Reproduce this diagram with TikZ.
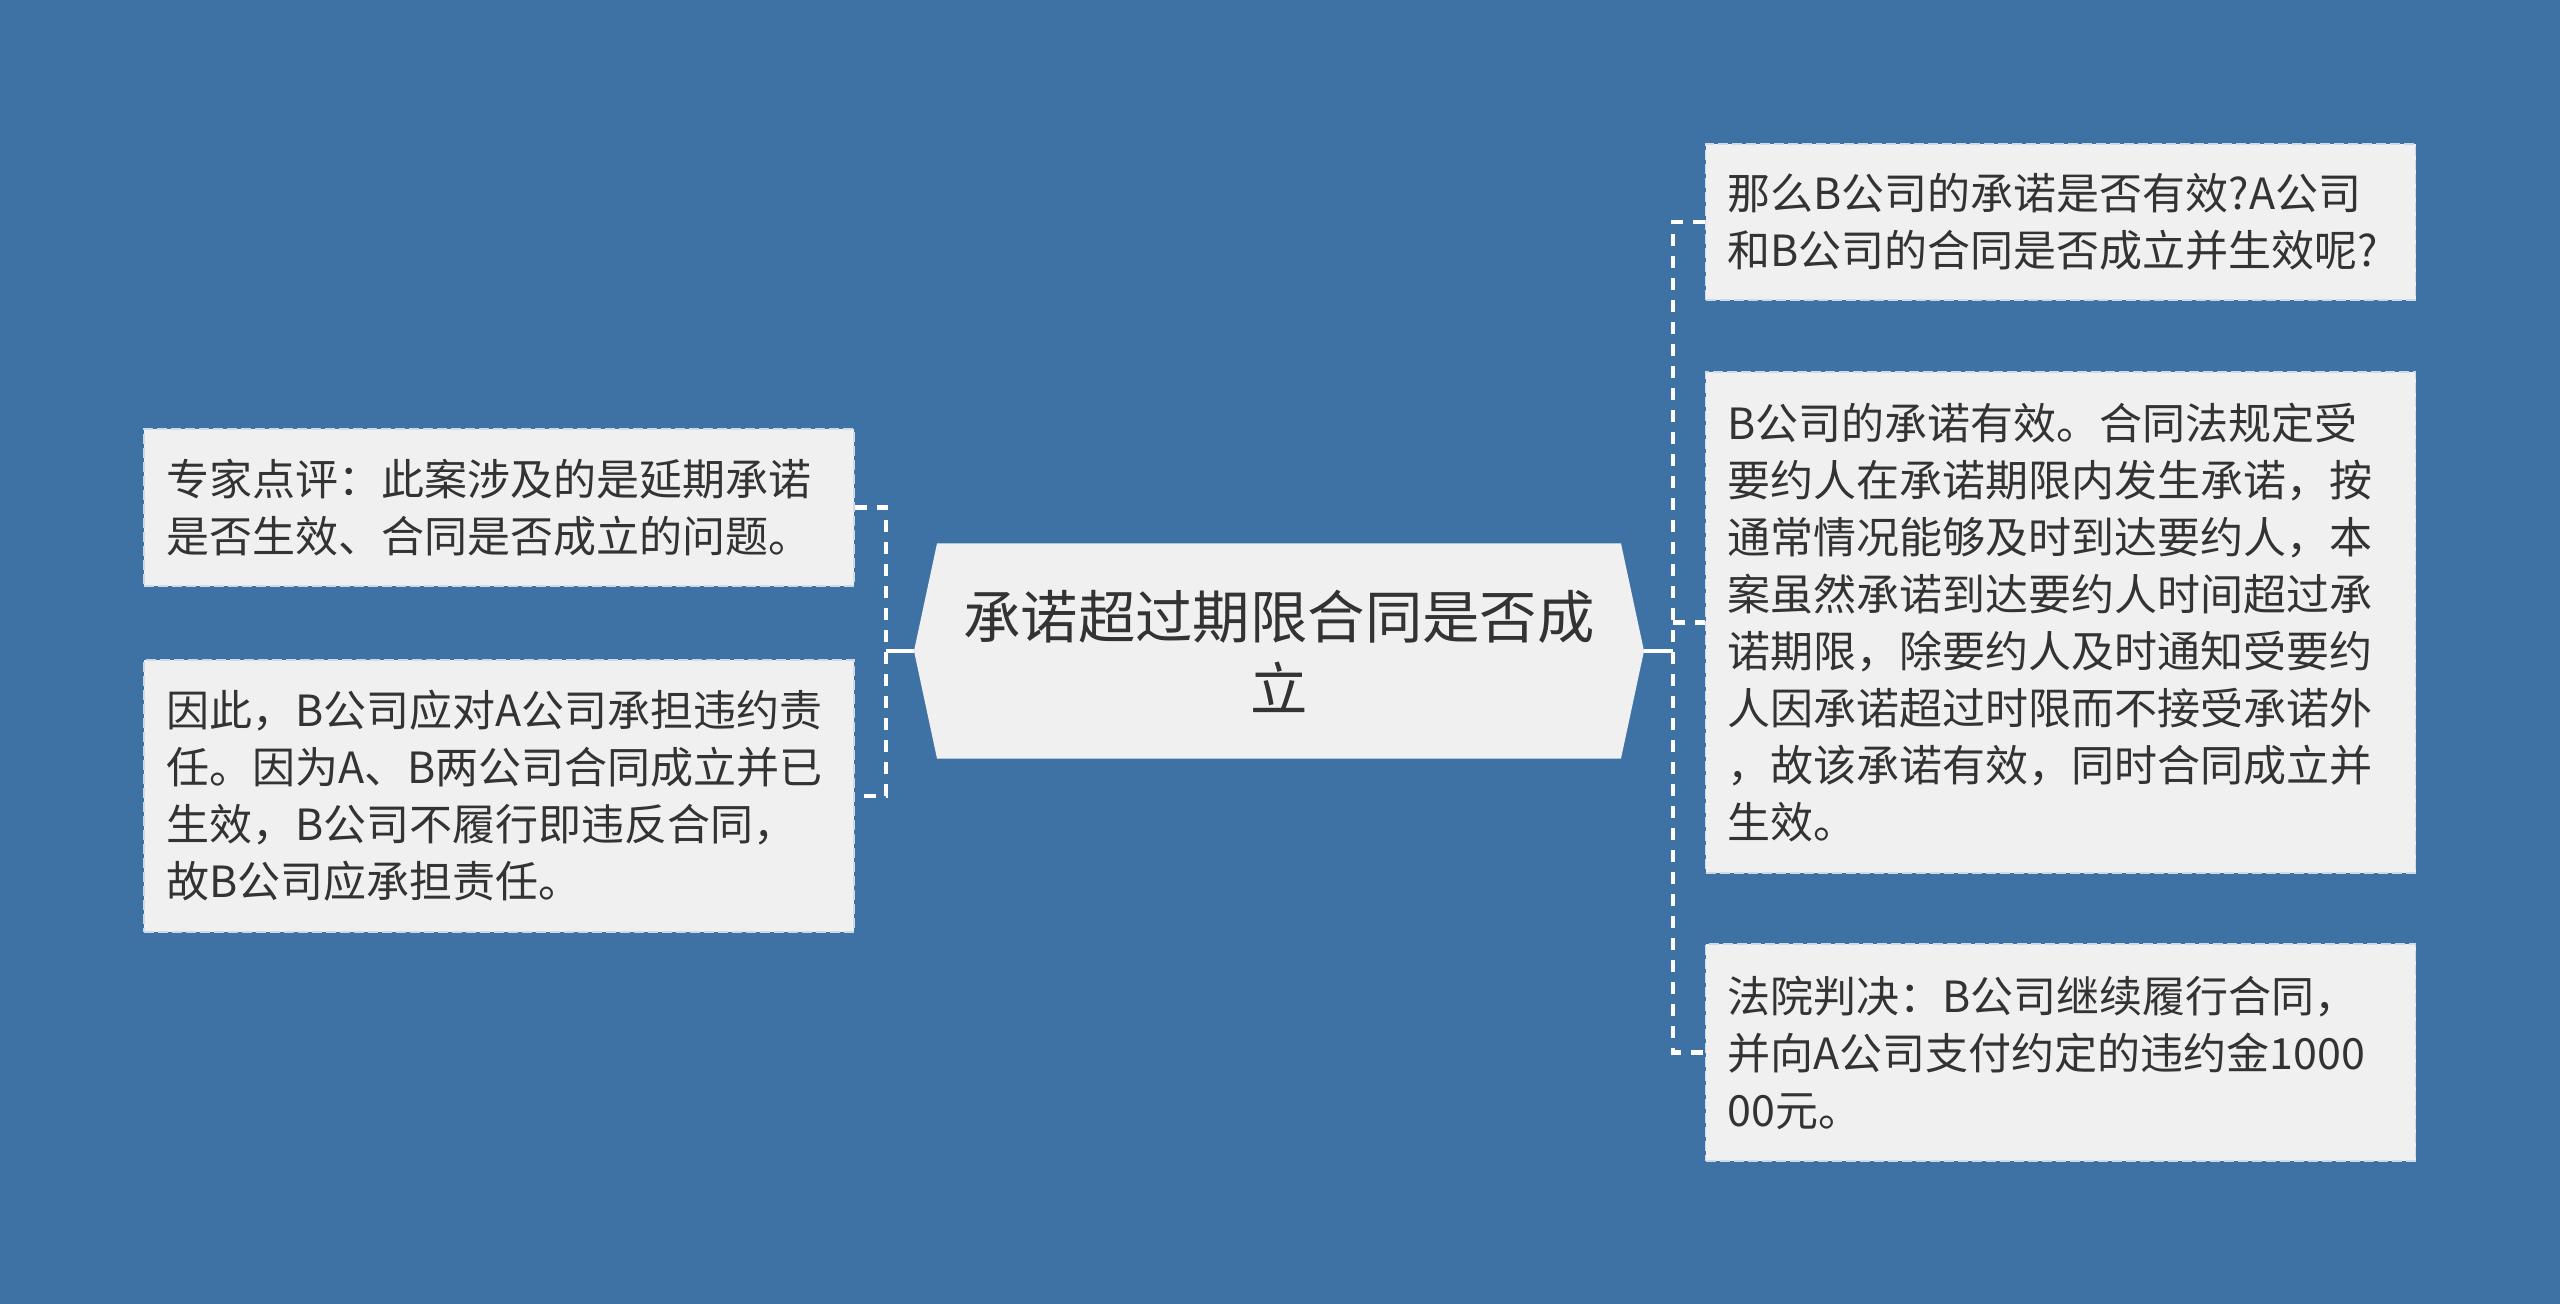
\documentclass[tikz,border=0pt]{standalone}
\usepackage{fontspec}
\newfontfamily\cjk{Noto Sans CJK SC}
\usetikzlibrary{calc}
\definecolor{bgblue}{RGB}{62,114,165}
\definecolor{boxgray}{RGB}{240,240,240}
\definecolor{txtgray}{RGB}{51,51,51}
\definecolor{edgegray}{RGB}{206,218,232}

\begin{document}
\begin{tikzpicture}[x=0.5pt, y=-0.5pt,
      leaf/.style={rectangle, draw=edgegray, dash pattern=on 5pt off 2pt, line width=0.8pt, fill=boxgray, text=txtgray,
        text width=333pt, align=left, inner xsep=11pt, inner ysep=0pt, font=\cjk\fontsize{21.5pt}{28.5pt}\selectfont},
      root/.style={rectangle, fill=bgblue, minimum width=365pt, minimum height=107.5pt, inner sep=0pt, align=center,
        text=txtgray, font=\cjk\fontsize{28.7pt}{36pt}\selectfont,
        path picture={\fill[boxgray] (path picture bounding box.west) -- ([xshift=11.5pt]path picture bounding box.north west)
          -- ([xshift=-11.5pt]path picture bounding box.north east) -- (path picture bounding box.east)
          -- ([xshift=-11.5pt]path picture bounding box.south east) -- ([xshift=11.5pt]path picture bounding box.south west) -- cycle;}},
      link/.style={draw=white, line width=2.4pt},
      dashlink/.style={link, dash pattern=on 6pt off 5pt},
      node distance=196.5pt]
      \fill[bgblue] (0,0) rectangle (2560,1304);

      \node[root] (root) at (1279,651) {承诺超过期限合同是否成\\立};

      \node[leaf, minimum height=78.5pt] (lq) at (499,507.5) {专家点评：此案涉及的是延期承诺\\是否生效、合同是否成立的问题。};
      \node[leaf, minimum height=136pt] (lb) at (499,796) {因此，B公司应对A公司承担违约责\\任。因为A、B两公司合同成立并已\\生效，B公司不履行即违反合同，\\故B公司应承担责任。};

      \node[leaf, minimum height=78pt] (rq) at (2060.5,222) {那么B公司的承诺是否有效?A公司\\和B公司的合同是否成立并生效呢?};
      \node[leaf, minimum height=250.5pt] (rb) at (2060.5,622.5) {B公司的承诺有效。合同法规定受\\要约人在承诺期限内发生承诺，按\\通常情况能够及时到达要约人，本\\案虽然承诺到达要约人时间超过承\\诺期限，除要约人及时通知受要约\\人因承诺超过时限而不接受承诺外\\，故该承诺有效，同时合同成立并\\生效。};
      \node[leaf, minimum height=108.5pt] (rc) at (2060.5,1052.5) {法院判决：B公司继续履行合同，\\并向A公司支付约定的违约金1000\\00元。};

      \node[coordinate, left of=root] (lhub) {};
      \node[coordinate, right of=root, node distance=197pt] (rhub) {};

      \draw[link] (root.west) -- (lhub);
      \draw[dashlink] (lq.east) -| (lhub) |- (lb.east);

      \draw[link] (root.east) -- (rhub);
      \draw[dashlink] (rq.west) -| (rhub) |- (rc.west);
      \draw[dashlink] (rhub |- rb.west) -- (rb.west);
\end{tikzpicture}
\end{document}
